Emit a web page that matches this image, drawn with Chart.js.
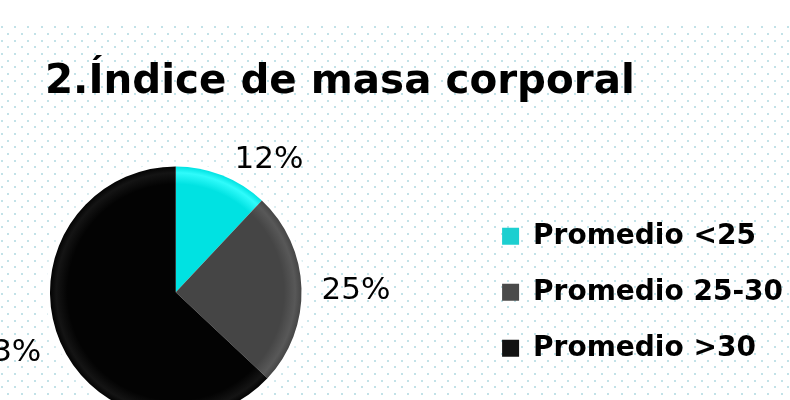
<!DOCTYPE html>
<html>
<head>
<meta charset="utf-8">
<script src="https://cdn.jsdelivr.net/npm/chart.js@4.4.1/dist/chart.umd.min.js"></script>
<style>
html,body{margin:0;padding:0;background:#fff;overflow:hidden;}
#wrap{width:790px;height:420px;position:relative;}
</style>
</head>
<body>
<div id="wrap"><canvas id="chart"></canvas></div>
<script>
/* =========================
DATA
========================= */

const categories = ["Promedio <25", "Promedio 25-30", "Promedio >30"];

const values = [12, 25, 63];

const chartTitle = "2.Índice de masa corporal";

/* COLORES */

const baseColors = ["#00e2e2", "#454545", "#030303"];
const edgeColors = ["#30fbfb", "#585858", "#141414"];
const legendColors = ["#1ccfd0", "#4a4a4a", "#121212"];

/* =========================
FILL (efecto bisel)
========================= */

function sliceFill(context){
  const i = context.dataIndex;
  const ca = context.chart.chartArea;
  if(!ca) return baseColors[i];
  const cx = (ca.left + ca.right) / 2;
  const cy = (ca.top + ca.bottom) / 2;
  const r = Math.min(ca.width, ca.height) / 2;
  const g = context.chart.ctx.createRadialGradient(cx, cy, 0, cx, cy, r);
  g.addColorStop(0, baseColors[i]);
  g.addColorStop(0.86, baseColors[i]);
  g.addColorStop(0.95, edgeColors[i]);
  g.addColorStop(1, baseColors[i]);
  return g;
}

/* =========================
PLUGINS
========================= */

// fondo con puntos
const dotBackground = {
  id: "dotBackground",
  beforeDraw(chart){
    const ctx = chart.ctx;
    ctx.save();
    ctx.fillStyle = "#ffffff";
    ctx.fillRect(0, 0, chart.width, chart.height);
    ctx.fillStyle = "rgba(120,190,205,0.45)";
    const step = 20 / 3;
    let row = 0;
    for(let y = 27.3; y < chart.height; y += step, row++){
      const x0 = row % 2 ? 8.3 : 1.7;
      for(let x = x0; x < chart.width; x += step * 2){
        ctx.fillRect(Math.round(x) - 1, Math.round(y) - 1, 2, 2);
      }
    }
    ctx.restore();
  }
};

// area cuadrada para el pastel
const pieArea = {
  id: "pieArea",
  afterLayout(chart, args, opts){
    const ca = chart.chartArea;
    ca.left = opts.left;
    ca.width = ca.bottom - ca.top;
    ca.right = ca.left + ca.width;
  }
};

// halo blanco
const pieGlow = {
  id: "pieGlow",
  beforeDatasetsDraw(chart){
    const arc = chart.getDatasetMeta(0).data[0];
    if(!arc) return;
    const ctx = chart.ctx;
    ctx.save();
    ctx.shadowColor = "rgba(255,255,255,1)";
    ctx.shadowBlur = 14;
    ctx.fillStyle = "#ffffff";
    ctx.beginPath();
    ctx.arc(arc.x, arc.y, arc.outerRadius + 4, 0, Math.PI * 2);
    ctx.fill();
    ctx.restore();
  }
};

// etiquetas de porcentaje
const pctLabels = {
  id: "pctLabels",
  afterDatasetsDraw(chart, args, opts){
    const meta = chart.getDatasetMeta(0);
    const ctx = chart.ctx;
    const total = values.reduce((a, b) => a + b, 0);
    const k = v => Math.max(-1, Math.min(1, v * 3));
    ctx.save();
    ctx.font = opts.font;
    ctx.fillStyle = opts.color;
    ctx.textAlign = "center";
    ctx.textBaseline = "middle";
    meta.data.forEach((arc, i) => {
      const mid = (arc.startAngle + arc.endAngle) / 2;
      const text = Math.round(values[i] / total * 100) + "%";
      const w = ctx.measureText(text).width;
      const c = Math.cos(mid);
      const s = Math.sin(mid);
      const px = arc.x + (arc.outerRadius + opts.gap) * c;
      const py = arc.y + (arc.outerRadius + opts.gap) * s;
      ctx.fillText(text, px + k(c) * (w / 2 + opts.padX), py + s * opts.padY + opts.shiftY);
    });
    ctx.restore();
  }
};

/* =========================
CHART
========================= */

const ctx = document.getElementById("chart");

const chart = new Chart(ctx, {

  type: "pie",

  data: {
    labels: categories,
    datasets: [{
      data: values,
      backgroundColor: sliceFill,
      borderWidth: 0,
      hoverOffset: 0
    }]
  },

  options: {
    responsive: true,
    maintainAspectRatio: false,
    animation: false,
    layout: {
      padding: {left: 45, top: 0, right: -3, bottom: 2}
    },
    plugins: {
      title: {
        display: true,
        text: chartTitle,
        align: "start",
        color: "#000000",
        font: {family: "DejaVu Sans", size: 40.4, weight: "bold"},
        padding: {top: 58, bottom: 60}
      },
      legend: {
        position: "right",
        fullSize: false,
        align: "center",
        labels: {
          boxWidth: 17,
          boxHeight: 17,
          padding: 28,
          color: "#000000",
          font: {family: "DejaVu Sans", size: 28, weight: "bold"},
          generateLabels(chart){
            const items = Chart.overrides.pie.plugins.legend.labels.generateLabels(chart);
            items.forEach((it, i) => {
              it.fillStyle = legendColors[i];
              it.strokeStyle = legendColors[i];
              it.lineWidth = 0;
            });
            return items;
          }
        }
      },
      tooltip: {enabled: false},
      pieArea: {left: 50},
      pctLabels: {
        font: "31px 'DejaVu Sans'",
        color: "#000000",
        gap: 12,
        padX: 8,
        padY: 8,
        shiftY: 3
      }
    }
  },

  plugins: [dotBackground, pieArea, pieGlow, pctLabels]

});
</script>
</body>
</html>
